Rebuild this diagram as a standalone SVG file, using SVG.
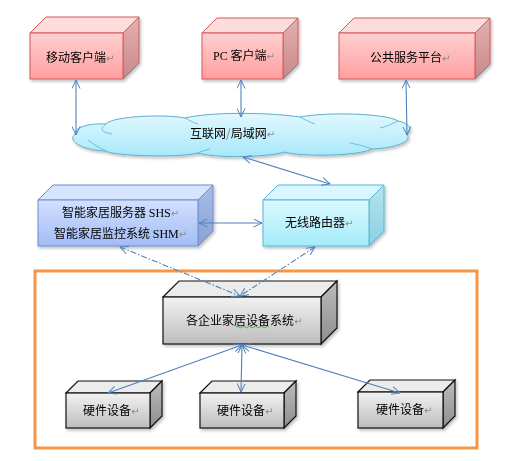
<svg xmlns="http://www.w3.org/2000/svg" width="524" height="461" viewBox="0 0 524 461">
<defs>
<linearGradient id="gPink" x1="0" y1="0" x2="0" y2="1"><stop offset="0" stop-color="#ffd0d0"/><stop offset="1" stop-color="#ff9e9e"/></linearGradient>
<linearGradient id="gPinkSide" x1="0" y1="0" x2="0" y2="1"><stop offset="0" stop-color="#e6b0b0"/><stop offset="1" stop-color="#c88888"/></linearGradient>
<linearGradient id="gBlue" x1="0" y1="0" x2="0" y2="1"><stop offset="0" stop-color="#d2e0ff"/><stop offset="1" stop-color="#a2bcf4"/></linearGradient>
<linearGradient id="gBlueSide" x1="0" y1="0" x2="0" y2="1"><stop offset="0" stop-color="#a8bce6"/><stop offset="1" stop-color="#8aa2d4"/></linearGradient>
<linearGradient id="gCyan" x1="0" y1="0" x2="0" y2="1"><stop offset="0" stop-color="#dcf8ff"/><stop offset="1" stop-color="#a4ecfa"/></linearGradient>
<linearGradient id="gCyanSide" x1="0" y1="0" x2="0" y2="1"><stop offset="0" stop-color="#b4e4f0"/><stop offset="1" stop-color="#8ccfe0"/></linearGradient>
<linearGradient id="gGray" x1="0" y1="0" x2="0" y2="1"><stop offset="0" stop-color="#f2f2f2"/><stop offset="1" stop-color="#bdbdbd"/></linearGradient>
<linearGradient id="gGraySide" x1="0" y1="0" x2="0" y2="1"><stop offset="0" stop-color="#bcbcbc"/><stop offset="1" stop-color="#8e8e8e"/></linearGradient>
<linearGradient id="gCloud" x1="0" y1="0" x2="0" y2="1"><stop offset="0" stop-color="#e2f8ff"/><stop offset="1" stop-color="#a6e8fa"/></linearGradient>
<filter id="sh" x="-10%" y="-10%" width="130%" height="140%"><feDropShadow dx="1.5" dy="2" stdDeviation="1.5" flood-color="#000" flood-opacity="0.25"/></filter>
<marker id="ah" viewBox="0 0 10 10" refX="9.5" refY="5" markerWidth="9" markerHeight="9" markerUnits="userSpaceOnUse" orient="auto-start-reverse"><path d="M0,0.5 L9.5,5 L0,9.5" fill="none" stroke="#4f81bd" stroke-width="1.1"/></marker>
</defs>
<style>
.t{font-family:"Noto Sans CJK SC","Liberation Sans",sans-serif;font-size:12px;fill:#000}
.s{font-family:"Liberation Serif","Noto Sans CJK SC",serif}
.r{fill:#8a8a8a;font-family:"DejaVu Sans",sans-serif;font-size:10px}
.pk .f{fill:url(#gPink)}.pk .tp{fill:#ffdcdc}.pk .sd{fill:url(#gPinkSide)}.pk polygon,.pk rect{stroke:#d05a5a;stroke-width:1}
.bl .f{fill:url(#gBlue)}.bl .tp{fill:#d6e4ff}.bl .sd{fill:url(#gBlueSide)}.bl polygon,.bl rect{stroke:#6b8fcf;stroke-width:1}
.cy .f{fill:url(#gCyan)}.cy .tp{fill:#d8f6ff}.cy .sd{fill:url(#gCyanSide)}.cy polygon,.cy rect{stroke:#58b4d0;stroke-width:1}
.gy .f{fill:url(#gGray)}.gy .tp{fill:#ececec}.gy .sd{fill:url(#gGraySide)}.gy polygon,.gy rect{stroke:#111;stroke-width:1.2}
.c{stroke:#4f81bd;stroke-width:1.1;fill:none;marker-start:url(#ah);marker-end:url(#ah)}
.dd{stroke-dasharray:6 2 1.5 2}
</style>
<rect x="35" y="271" width="442" height="177" fill="none" stroke="#f79646" stroke-width="3"/>

<g id="mobile" class="pk" filter="url(#sh)">
<polygon class="tp" points="30,33 46,17 139,17 123,33"/>
<polygon class="sd" points="123,33 139,17 139,63 123,79"/>
<rect class="f" x="30" y="33" width="93" height="46"/>
<text class="t" x="46" y="62">移动客户端<tspan class="r">↵</tspan></text>
</g>
<g id="pc" class="pk" filter="url(#sh)">
<polygon class="tp" points="202,33 217,18 298,18 283,33"/>
<polygon class="sd" points="283,33 298,18 298,64 283,79"/>
<rect class="f" x="202" y="33" width="81" height="46"/>
<text class="t" x="213" y="60"><tspan class="s">PC</tspan> 客户端<tspan class="r">↵</tspan></text>
</g>
<g id="platform" class="pk" filter="url(#sh)">
<polygon class="tp" points="339,33 354,18 490,18 475,33"/>
<polygon class="sd" points="475,33 490,18 490,64 475,79"/>
<rect class="f" x="339" y="33" width="136" height="46"/>
<text class="t" x="370" y="62">公共服务平台<tspan class="r">↵</tspan></text>
</g>

<g id="cloud" filter="url(#sh)">
<path d="M76,133 C74,128 88,123 106,124 C112,116 165,114 185,118 C210,112 265,112 300,117 C325,112 385,113 398,121 C412,124 412,131 406,134 C414,140 398,148 372,149 C360,156 300,157 285,152 C262,158 215,158 198,153 C180,158 112,156 106,151 C80,150 66,140 76,133 Z" fill="url(#gCloud)" stroke="#5fb0cc" stroke-width="1"/>
<path d="M106,124 C100,128 100,132 112,134 M88,140 C94,145 100,148 106,151 M185,118 C190,121 195,123 198,124 M300,117 C305,120 310,122 315,124 M398,121 C392,124 385,127 380,128 M372,149 C365,146 355,144 350,143 M198,153 C202,151 206,150 210,149" fill="none" stroke="#5fb0cc" stroke-width="0.8"/>
<text class="t" x="190" y="138">互联网<tspan fill="#6a7a9a">/</tspan>局域网<tspan class="r">↵</tspan></text>
</g>

<g id="shs" class="bl" filter="url(#sh)">
<polygon class="tp" points="38,200 53,185 213,185 198,200"/>
<polygon class="sd" points="198,200 213,185 213,231 198,246"/>
<rect class="f" x="38" y="200" width="160" height="46"/>
<text class="t" x="62" y="217">智能家居服务器 <tspan class="s">SHS</tspan><tspan class="r">↵</tspan></text>
<text class="t" x="54" y="238">智能家居监控系统 <tspan class="s">SHM</tspan><tspan class="r">↵</tspan></text>
</g>
<g id="router" class="cy" filter="url(#sh)">
<polygon class="tp" points="263,200 278,185 384,185 369,200"/>
<polygon class="sd" points="369,200 384,185 384,231 369,246"/>
<rect class="f" x="263" y="200" width="106" height="46"/>
<text class="t" x="285" y="227">无线路由器<tspan class="r">↵</tspan></text>
</g>

<g id="system" class="gy" filter="url(#sh)">
<polygon class="tp" points="163,297 179,281 337,281 321,297"/>
<polygon class="sd" points="321,297 337,281 337,328 321,344"/>
<rect class="f" x="163" y="297" width="158" height="47"/>
<text class="t" x="186" y="325">各企业家居设备系统<tspan class="r">↵</tspan></text>
<path d="M236,327 q1.5,-1.5 3,0 t3,0 t3,0 t3,0 t3,0 t3,0 t3,0 t3,0 t3,0 t3,0 t3,0" fill="none" stroke="#2a9a2a" stroke-width="0.8"/>
</g>
<g id="hw1" class="gy" filter="url(#sh)">
<polygon class="tp" points="66,393 78,381 162,381 150,393"/>
<polygon class="sd" points="150,393 162,381 162,416 150,428"/>
<rect class="f" x="66" y="393" width="84" height="35"/>
<text class="t" x="83" y="415">硬件设备<tspan class="r">↵</tspan></text>
</g>
<g id="hw2" class="gy" filter="url(#sh)">
<polygon class="tp" points="200,393 212,381 296,381 284,393"/>
<polygon class="sd" points="284,393 296,381 296,416 284,428"/>
<rect class="f" x="200" y="393" width="84" height="35"/>
<text class="t" x="217" y="415">硬件设备<tspan class="r">↵</tspan></text>
</g>
<g id="hw3" class="gy" filter="url(#sh)">
<polygon class="tp" points="358,392 370,380 455,380 443,392"/>
<polygon class="sd" points="443,392 455,380 455,416 443,428"/>
<rect class="f" x="358" y="392" width="85" height="36"/>
<text class="t" x="376" y="414">硬件设备<tspan class="r">↵</tspan></text>
</g>

<g id="connectors">
<line class="c" x1="76" y1="80" x2="76" y2="135"/>
<line class="c" x1="241" y1="80" x2="241" y2="117"/>
<line class="c" x1="406" y1="80" x2="407" y2="135"/>
<line class="c" x1="243" y1="157" x2="330" y2="184"/>
<line class="c" x1="199" y1="223" x2="262" y2="223"/>
<line class="c dd" x1="120" y1="247" x2="240" y2="296"/>
<line class="c dd" x1="315" y1="247" x2="240" y2="296"/>
<line class="c" x1="242" y1="345" x2="108" y2="393"/>
<line class="c" x1="242" y1="345" x2="241" y2="392"/>
<line class="c" x1="242" y1="345" x2="400" y2="393"/>
</g>
</svg>
